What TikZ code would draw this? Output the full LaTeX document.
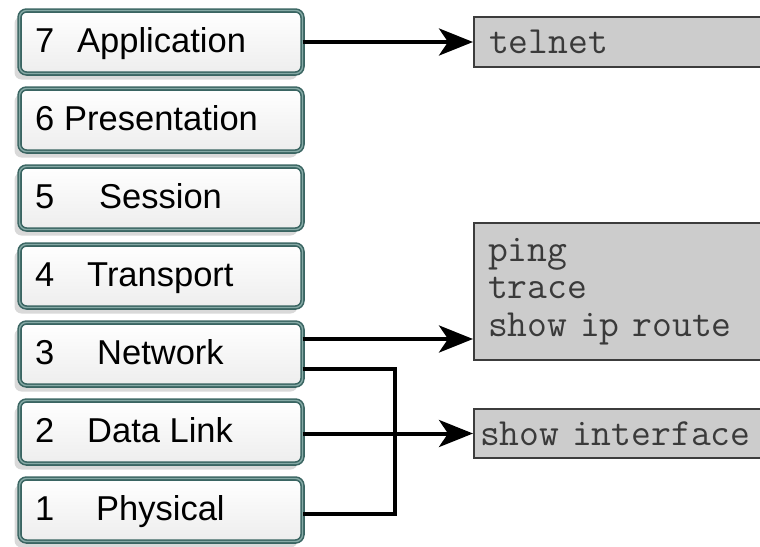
\documentclass[tikz,border=0pt]{standalone}
\usepackage{fontspec}
\setmainfont{Liberation Sans}
\usetikzlibrary{arrows.meta}
\definecolor{tealdark}{HTML}{3A6562}
\definecolor{teallight}{HTML}{86AAA6}
\definecolor{cmdfill}{HTML}{CCCCCC}
\definecolor{cmdline}{HTML}{3C3C3C}
\definecolor{cmdtext}{HTML}{3A3A3A}
\newcommand\cmdfnt{\ttfamily\fontsize{38.5pt}{37.5pt}\selectfont}
\tikzset{
  layer/.style={minimum width=283pt, minimum height=63pt, rounded corners=7pt,
    draw=tealdark, line width=4.5pt, top color=white, bottom color=gray!14,
    inner sep=0pt, outer sep=0pt,
    preaction={fill=gray!30, transform canvas={shift={(-5pt,-6pt)}}},
    postaction={draw=teallight, line width=1.3pt}},
  lbl/.style={anchor=base west, inner sep=0pt, font=\fontsize{34.5pt}{36pt}\selectfont, text=black},
  cmd/.style={draw=cmdline, line width=2pt, fill=cmdfill, anchor=west, align=left,
    text width=320pt, inner ysep=0pt, font=\cmdfnt, text=cmdtext},
  conn/.style={line width=4pt, draw=black},
  arr/.style={conn, -{Stealth[length=34pt, width=27pt, inset=9pt]}},
}
\begin{document}
\begin{tikzpicture}[x=1pt, y=-1pt]
\useasboundingbox (0,0) rectangle (760,546);
% layers
\foreach \n/\cy in {7/42, 6/120, 5/198, 4/276, 3/354, 2/432, 1/510}{
  \node[layer] (l\n) at (161,\cy) {};
}
\node[lbl] (n7) at (35,52) {7}; \node[lbl] (t7) at (77,52) {Application};
\node[lbl] (n6) at (35,130) {6}; \node[lbl] (t6) at (64,130) {Presentation};
\node[lbl] (n5) at (35,208) {5}; \node[lbl] (t5) at (99,208) {Session};
\node[lbl] (n4) at (35,286) {4}; \node[lbl] (t4) at (87,286) {Transport};
\node[lbl] (n3) at (35,364) {3}; \node[lbl] (t3) at (97,364) {Network};
\node[lbl] (n2) at (35,442) {2}; \node[lbl] (t2) at (87,442) {Data Link};
\node[lbl] (n1) at (35,520) {1}; \node[lbl] (t1) at (96,520) {Physical};
% command boxes
\node[cmd, minimum height=50pt, inner xsep=15pt] (telnet) at (473,42) {telnet};
\node[cmd, minimum height=137pt, inner xsep=14pt] (ping) at (473,291.5) {ping\\trace\\show ip route};
\node[cmd, minimum height=49pt, inner xsep=6pt] (showif) at (473,433.5) {show interface};
% connectors
\coordinate (c3a) at (l3.east |- 0,339);
\coordinate (c3b) at (l3.east |- 0,369);
\coordinate (c1) at (l1.east |- 0,514);
\draw[arr] (l7.east) -- (telnet.west);
\draw[arr] (c3a) -- (ping.west |- c3a);
\draw[arr] (l2.east |- showif.west) -- (showif.west);
\draw[conn] (c3b) -| (395,514) -- (c1);
\end{tikzpicture}
\end{document}
